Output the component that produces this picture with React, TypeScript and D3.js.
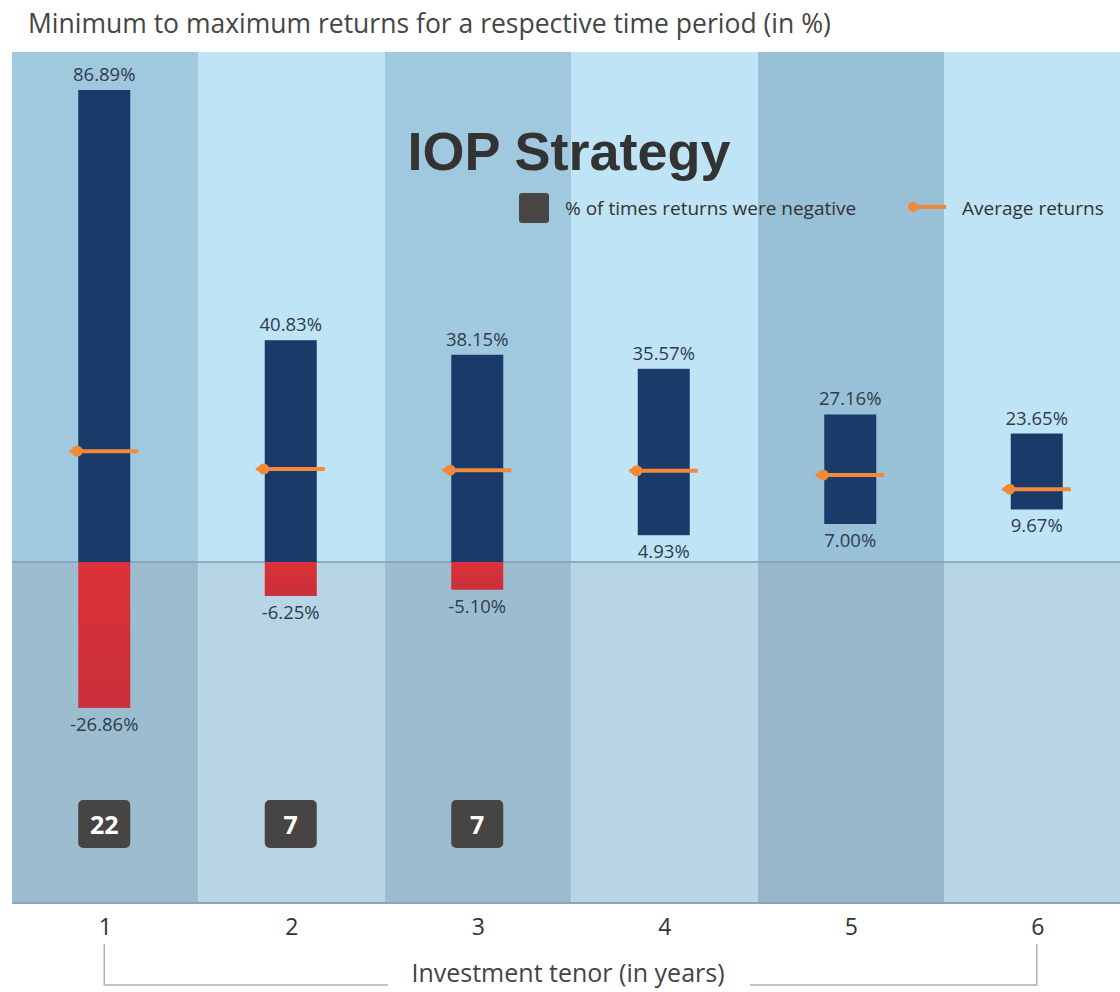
import * as d3 from 'd3';

const tenors = ['1', '2', '3', '4', '5', '6'];
const maxReturns = [86.89, 40.83, 38.15, 35.57, 27.16, 23.65];
const minReturns = [-26.86, -6.25, -5.1, 4.93, 7.0, 9.67];
const avgReturns = [20.4, 17.1, 16.9, 16.8, 16.0, 13.4];
const negativeCounts = [22, 7, 7, null, null, null];

const W = 1120;
const H = 992;
const plotTop = 52;
const plotBottom = 903;
const plotLeft = 12;

const upperFills = ['#a0c8de', '#bfe4f6', '#a0c8de', '#bfe4f6', '#98c0d7', '#bfe4f6'];
const lowerFills = ['#9cbdd0', '#b7d5e4', '#9cbdd0', '#b7d5e4', '#97b6ca', '#b7d5e4'];

const font = "'Open Sans', 'Noto Sans', sans-serif";
const fmt = (v: number) => v.toFixed(2) + '%';

export default function App() {
  const x = d3.scaleBand().domain(tenors).range([plotLeft, plotLeft + 6 * 186.5]).padding(0);
  const y = d3.scaleLinear().domain([0, 86.89]).range([562, 90]);
  const barW = 52;
  const zeroY = y(0);
  const mid = (t: string) => (x(t) as number) + x.bandwidth() / 2 - 1;

  return (
    <svg width={W} height={H} style={{ position: 'absolute', left: 0, top: 0, background: '#fff' }}>
      <defs>
        <linearGradient id="redGrad" x1="0" y1="0" x2="0" y2="1">
          <stop offset="0%" stopColor="#dc3138" />
          <stop offset="100%" stopColor="#c8303a" />
        </linearGradient>
      </defs>
      <text x={28} y={33} fontFamily={font} fontSize={26.5} fill="#454545">
        Minimum to maximum returns for a respective time period (in %)
      </text>

      {tenors.map((t, i) => (
        <g key={'band' + t}>
          <rect x={x(t)} y={plotTop} width={x.bandwidth()} height={zeroY - plotTop} fill={upperFills[i]} />
          <rect x={x(t)} y={zeroY} width={x.bandwidth()} height={plotBottom - zeroY} fill={lowerFills[i]} />
        </g>
      ))}
      <line x1={plotLeft} x2={W} y1={zeroY} y2={zeroY} stroke="#7f9fb3" strokeWidth={1.5} />
      <line x1={plotLeft} x2={W} y1={plotBottom} y2={plotBottom} stroke="#8aa7ba" strokeWidth={2} />

      <text x={569} y={170} textAnchor="middle" fontFamily="'Liberation Sans', Arial, sans-serif" fontWeight="bold" fontSize={54} fill="#333">
        IOP Strategy
      </text>

      <rect x={519} y={193} width={30} height={30} rx={3} fill="#4a4545" />
      <text x={565} y={215} fontFamily={font} fontSize={19} fill="#333">% of times returns were negative</text>
      <line x1={910} x2={946} y1={207} y2={207} stroke="#f08a3a" strokeWidth={4} />
      <circle cx={913} cy={207} r={5} fill="#f08a3a" />
      <text x={962} y={215} fontFamily={font} fontSize={19} fill="#333">Average returns</text>

      {tenors.map((t, i) => {
        const cx = mid(t);
        const lo = minReturns[i];
        const hi = maxReturns[i];
        const posBottom = lo < 0 ? 0 : lo;
        const avgY = y(avgReturns[i]);
        return (
          <g key={'bar' + t}>
            <rect x={cx - barW / 2} y={y(hi)} width={barW} height={y(posBottom) - y(hi)} fill="#1a3a6a" />
            {lo < 0 && (
              <rect x={cx - barW / 2} y={zeroY} width={barW} height={y(lo) - zeroY} fill="url(#redGrad)" />
            )}
            <text x={cx} y={y(hi) - 9} textAnchor="middle" fontFamily={font} fontSize={18.5} fill="#2f3d4c">
              {fmt(hi)}
            </text>
            <text x={cx} y={y(lo) + 23} textAnchor="middle" fontFamily={font} fontSize={18.5} fill="#2f3d4c">
              {fmt(lo)}
            </text>
            <line x1={cx - barW / 2 - 8} x2={cx + barW / 2 + 8} y1={avgY} y2={avgY} stroke="#f08a3a" strokeWidth={4} />
            <circle cx={cx - barW / 2 - 1} cy={avgY} r={5.5} fill="#f08a3a" />
            <path d={`M${cx - barW / 2 - 10},${avgY} L${cx - barW / 2 - 2},${avgY - 4} L${cx - barW / 2 - 2},${avgY + 4} Z`} fill="#f08a3a" />
            {negativeCounts[i] !== null && (
              <g>
                <rect x={cx - 26} y={800} width={52} height={48} rx={5} fill="#474444" />
                <text x={cx} y={834} textAnchor="middle" fontFamily={font} fontWeight="bold" fontSize={25} fill="#fff">
                  {negativeCounts[i]}
                </text>
              </g>
            )}
            <text x={cx + 1} y={935} textAnchor="middle" fontFamily={font} fontSize={23} fill="#333">
              {t}
            </text>
          </g>
        );
      })}

      <path
        d={`M${mid('1')},944 V985 H388 M750,985 H${mid('6')} V944`}
        fill="none"
        stroke="#b0b0b0"
        strokeWidth={1.5}
      />
      <text x={568} y={982} textAnchor="middle" fontFamily={font} fontSize={25} fill="#444">
        Investment tenor (in years)
      </text>
    </svg>
  );
}
